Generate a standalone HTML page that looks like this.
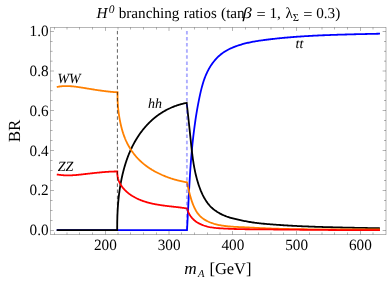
<!DOCTYPE html>
<html><head><meta charset="utf-8"><title>H0 branching ratios</title>
<style>
html,body{margin:0;padding:0;background:#fff;}
svg{will-change:transform;}
svg text{text-rendering:geometricPrecision;}
body{width:390px;height:281px;overflow:hidden;position:relative;font-family:"Liberation Serif",serif;}
</style></head><body>
<svg width="390" height="281" viewBox="0 0 390 281" style="position:absolute;left:0;top:0"><rect x="0" y="0" width="390" height="281" fill="#fff"/><path d="M56.70 230.20L187.00 230.20L187.06 229.18L187.11 228.16L187.17 227.15L187.23 226.13L187.28 225.11L187.34 224.09L187.39 223.07L187.45 222.06L187.50 221.04L187.55 220.02L187.61 219.00L187.66 217.98L187.71 216.97L187.76 215.95L187.81 214.93L187.87 213.92L187.92 212.90L187.97 211.88L188.02 210.86L188.07 209.85L188.12 208.83L188.17 207.81L188.22 206.80L188.28 205.78L188.33 204.76L188.38 203.75L188.43 202.73L188.48 201.71L188.53 200.70L188.58 199.68L188.64 198.67L188.69 197.65L188.74 196.63L188.79 195.62L188.85 194.60L188.90 193.59L188.95 192.57L189.01 191.56L189.06 190.54L189.12 189.53L189.17 188.51L189.23 187.50L189.29 186.48L189.34 185.47L189.40 184.45L189.46 183.44L189.52 182.42L189.58 181.41L189.64 180.39L189.70 179.38L189.76 178.37L189.82 177.35L189.89 176.34L189.95 175.32L190.01 174.31L190.08 173.30L190.15 172.28L190.21 171.27L190.28 170.26L190.35 169.24L190.42 168.23L190.49 167.22L190.57 166.20L190.64 165.19L190.71 164.18L190.79 163.17L190.87 162.15L190.95 161.14L191.02 160.13L191.11 159.12L191.19 158.10L191.27 157.09L191.35 156.08L191.44 155.07L191.53 154.06L191.62 153.05L191.71 152.04L191.80 151.02L191.89 150.01L191.98 149.00L192.08 147.99L192.18 146.98L192.28 145.97L192.38 144.96L192.48 143.95L192.58 142.94L192.69 141.93L192.80 140.92L192.91 139.91L193.02 138.90L193.13 137.89L193.24 136.88L193.36 135.87L193.48 134.86L193.60 133.85L193.72 132.84L193.85 131.84L193.97 130.83L194.10 129.82L194.23 128.81L194.36 127.80L194.50 126.79L194.63 125.78L194.77 124.78L194.91 123.77L195.05 122.76L195.20 121.75L195.35 120.75L195.50 119.74L195.65 118.73L195.80 117.73L195.96 116.72L196.12 115.71L196.28 114.71L196.44 113.70L196.61 112.69L196.78 111.69L196.95 110.68L197.12 109.68L197.30 108.67L197.48 107.66L197.66 106.66L197.84 105.65L198.03 104.65L198.22 103.64L198.41 102.64L198.61 101.63L198.80 100.63L199.00 99.63L199.21 98.62L199.41 97.62L199.62 96.61L199.84 95.61L200.05 94.61L200.27 93.61L200.50 92.61L200.73 91.61L200.97 90.61L201.21 89.62L201.46 88.62L201.72 87.63L201.98 86.65L202.25 85.66L202.53 84.68L202.82 83.70L203.12 82.73L203.42 81.76L203.74 80.80L204.07 79.83L204.41 78.88L204.76 77.93L205.12 76.98L205.49 76.04L205.88 75.11L206.28 74.18L206.69 73.26L207.12 72.34L207.56 71.44L208.02 70.54L208.49 69.64L208.97 68.76L209.48 67.88L210.00 67.01L210.53 66.15L211.08 65.29L211.65 64.45L212.24 63.62L212.84 62.80L213.45 61.99L214.09 61.20L214.73 60.42L215.40 59.65L216.08 58.89L216.77 58.15L217.48 57.43L218.21 56.72L218.95 56.03L219.70 55.36L220.47 54.71L221.26 54.07L222.06 53.46L222.87 52.86L223.70 52.29L224.55 51.73L225.40 51.20L226.27 50.68L227.15 50.18L228.04 49.70L228.95 49.24L229.86 48.79L230.78 48.36L231.71 47.95L232.64 47.55L233.59 47.16L234.53 46.79L235.49 46.43L236.45 46.08L237.41 45.75L238.37 45.43L239.34 45.11L240.31 44.81L241.28 44.52L242.26 44.24L243.24 43.97L244.22 43.70L245.21 43.45L246.19 43.21L247.18 42.97L248.18 42.75L249.17 42.53L250.16 42.32L251.16 42.11L252.16 41.91L253.16 41.72L254.16 41.54L255.17 41.36L256.17 41.19L257.18 41.03L258.19 40.87L259.19 40.71L260.20 40.56L261.21 40.41L262.23 40.27L263.24 40.13L264.25 40.00L265.26 39.87L266.27 39.74L267.29 39.61L268.30 39.49L269.31 39.37L270.33 39.25L271.34 39.13L272.35 39.01L273.37 38.90L274.38 38.79L275.39 38.68L276.41 38.57L277.42 38.46L278.43 38.36L279.45 38.26L280.46 38.16L281.47 38.06L282.49 37.96L283.50 37.87L284.51 37.77L285.53 37.68L286.54 37.59L287.55 37.50L288.57 37.41L289.58 37.33L290.59 37.24L291.61 37.16L292.62 37.08L293.64 37.00L294.65 36.92L295.66 36.85L296.68 36.77L297.69 36.70L298.70 36.63L299.72 36.55L300.73 36.49L301.75 36.42L302.76 36.35L303.77 36.29L304.79 36.22L305.80 36.16L306.81 36.10L307.83 36.04L308.84 35.98L309.86 35.92L310.87 35.87L311.89 35.81L312.90 35.76L313.91 35.70L314.93 35.65L315.94 35.60L316.96 35.55L317.97 35.50L318.99 35.45L320.00 35.41L321.02 35.36L322.03 35.32L323.05 35.27L324.06 35.23L325.08 35.19L326.09 35.15L327.11 35.11L328.12 35.07L329.14 35.03L330.15 34.99L331.17 34.95L332.18 34.92L333.20 34.88L334.21 34.85L335.23 34.81L336.24 34.78L337.26 34.75L338.28 34.71L339.29 34.68L340.31 34.65L341.32 34.62L342.34 34.59L343.36 34.56L344.37 34.53L345.39 34.51L346.40 34.48L347.42 34.45L348.44 34.42L349.45 34.40L350.47 34.37L351.49 34.35L352.51 34.32L353.52 34.30L354.54 34.27L355.56 34.25L356.57 34.22L357.59 34.20L358.61 34.18L359.63 34.15L360.64 34.13L361.66 34.11L362.68 34.08L363.70 34.06L364.72 34.04L365.73 34.02L366.75 33.99L367.77 33.97L368.79 33.95L369.81 33.93L370.83 33.90L371.85 33.88L372.86 33.86L373.88 33.84L374.90 33.81L375.92 33.79L376.94 33.77L377.96 33.75L378.98 33.72L380.00 33.70" fill="none" stroke="#0000ff" stroke-width="1.8" stroke-linejoin="miter" stroke-linecap="butt"/><path d="M56.70 230.20L117.20 230.20L117.20 229.61L117.20 229.02L117.20 228.43L117.20 227.84L117.20 227.26L117.20 226.67L117.20 226.08L117.21 225.49L117.21 224.90L117.22 224.31L117.22 223.72L117.23 223.13L117.24 222.54L117.25 221.96L117.26 221.37L117.27 220.78L117.28 220.19L117.30 219.60L117.31 219.01L117.33 218.42L117.34 217.84L117.36 217.25L117.38 216.66L117.40 216.07L117.42 215.48L117.44 214.89L117.47 214.31L117.49 213.72L117.52 213.13L117.54 212.54L117.57 211.95L117.60 211.37L117.63 210.78L117.66 210.19L117.70 209.60L117.73 209.02L117.77 208.43L117.80 207.84L117.84 207.26L117.88 206.67L117.92 206.08L117.96 205.50L118.01 204.91L118.05 204.32L118.10 203.74L118.15 203.15L118.20 202.57L118.25 201.98L118.30 201.40L118.35 200.81L118.41 200.23L118.46 199.64L118.52 199.06L118.58 198.47L118.64 197.89L118.70 197.30L118.77 196.72L118.83 196.14L118.90 195.55L118.97 194.97L119.04 194.39L119.11 193.80L119.19 193.22L119.26 192.64L119.34 192.06L119.42 191.48L119.50 190.89L119.58 190.31L119.66 189.73L119.75 189.15L119.84 188.57L119.92 187.99L120.01 187.41L120.11 186.83L120.20 186.25L120.30 185.67L120.39 185.09L120.49 184.51L120.60 183.94L120.70 183.36L120.80 182.78L120.91 182.20L121.02 181.63L121.13 181.05L121.24 180.47L121.36 179.90L121.47 179.32L121.59 178.75L121.71 178.17L121.84 177.60L121.96 177.02L122.09 176.45L122.21 175.87L122.35 175.30L122.48 174.73L122.61 174.16L122.75 173.58L122.89 173.01L123.03 172.44L123.17 171.87L123.32 171.30L123.46 170.73L123.61 170.16L123.76 169.59L123.92 169.02L124.07 168.45L124.23 167.88L124.39 167.32L124.56 166.75L124.72 166.18L124.89 165.62L125.06 165.05L125.23 164.49L125.40 163.93L125.58 163.36L125.76 162.80L125.94 162.24L126.13 161.68L126.31 161.12L126.50 160.56L126.69 160.00L126.89 159.45L127.08 158.89L127.28 158.34L127.48 157.78L127.69 157.23L127.90 156.68L128.11 156.13L128.32 155.58L128.53 155.03L128.75 154.48L128.97 153.93L129.19 153.39L129.42 152.85L129.65 152.30L129.88 151.76L130.12 151.22L130.35 150.68L130.59 150.14L130.84 149.61L131.08 149.07L131.33 148.54L131.58 148.01L131.84 147.48L132.09 146.95L132.36 146.42L132.62 145.89L132.89 145.37L133.16 144.84L133.43 144.32L133.70 143.80L133.98 143.28L134.27 142.77L134.55 142.25L134.84 141.74L135.13 141.23L135.42 140.72L135.72 140.21L136.02 139.70L136.33 139.20L136.63 138.70L136.94 138.20L137.26 137.70L137.57 137.20L137.89 136.71L138.22 136.21L138.54 135.72L138.87 135.24L139.20 134.75L139.54 134.27L139.88 133.79L140.22 133.31L140.56 132.83L140.91 132.36L141.26 131.88L141.61 131.42L141.97 130.95L142.33 130.48L142.69 130.02L143.06 129.56L143.42 129.11L143.80 128.65L144.17 128.20L144.55 127.75L144.93 127.31L145.31 126.86L145.70 126.42L146.09 125.99L146.48 125.55L146.88 125.12L147.28 124.69L147.68 124.27L148.09 123.84L148.49 123.42L148.91 123.01L149.32 122.59L149.74 122.18L150.16 121.78L150.58 121.37L151.01 120.97L151.44 120.58L151.87 120.18L152.30 119.79L152.74 119.40L153.18 119.02L153.63 118.64L154.08 118.26L154.53 117.89L154.98 117.52L155.44 117.15L155.90 116.79L156.36 116.43L156.82 116.08L157.29 115.73L157.76 115.38L158.24 115.04L158.71 114.70L159.19 114.36L159.68 114.03L160.16 113.70L160.65 113.38L161.15 113.06L161.64 112.74L162.14 112.43L162.64 112.12L163.14 111.82L163.65 111.52L164.16 111.22L164.67 110.93L165.18 110.64L165.70 110.36L166.21 110.08L166.74 109.80L167.26 109.53L167.78 109.27L168.31 109.01L168.84 108.75L169.37 108.49L169.91 108.25L170.44 108.00L170.98 107.76L171.52 107.52L172.07 107.29L172.61 107.07L173.16 106.84L173.70 106.63L174.25 106.41L174.80 106.20L175.36 106.00L175.91 105.80L176.47 105.60L177.03 105.41L177.59 105.23L178.15 105.05L178.71 104.87L179.27 104.70L179.84 104.53L180.40 104.37L180.97 104.21L181.54 104.06L182.11 103.91L182.68 103.77L183.25 103.63L183.82 103.49L184.40 103.37L184.97 103.24L185.55 103.12L186.12 103.01L186.70 102.90L186.82 103.98L186.94 105.06L187.06 106.13L187.18 107.21L187.30 108.29L187.42 109.37L187.54 110.45L187.66 111.53L187.78 112.61L187.90 113.69L188.01 114.77L188.13 115.85L188.25 116.93L188.37 118.01L188.48 119.09L188.60 120.17L188.72 121.25L188.83 122.33L188.95 123.41L189.06 124.49L189.18 125.57L189.29 126.65L189.41 127.73L189.52 128.81L189.63 129.89L189.75 130.97L189.86 132.06L189.97 133.14L190.09 134.22L190.20 135.30L190.31 136.38L190.42 137.46L190.54 138.54L190.65 139.62L190.76 140.70L190.87 141.79L190.98 142.87L191.09 143.95L191.21 145.03L191.32 146.11L191.44 147.19L191.56 148.27L191.68 149.35L191.80 150.42L191.93 151.50L192.05 152.58L192.18 153.66L192.32 154.73L192.46 155.81L192.60 156.88L192.74 157.96L192.89 159.03L193.05 160.10L193.21 161.17L193.37 162.24L193.55 163.31L193.72 164.38L193.90 165.45L194.09 166.51L194.29 167.58L194.49 168.64L194.70 169.70L194.91 170.76L195.14 171.82L195.37 172.88L195.61 173.94L195.86 174.99L196.12 176.04L196.38 177.09L196.66 178.14L196.94 179.19L197.24 180.24L197.54 181.28L197.85 182.32L198.18 183.36L198.51 184.40L198.86 185.44L199.22 186.47L199.59 187.50L199.97 188.53L200.37 189.55L200.77 190.57L201.20 191.59L201.63 192.59L202.08 193.59L202.55 194.59L203.04 195.57L203.54 196.54L204.05 197.50L204.59 198.45L205.15 199.39L205.72 200.32L206.31 201.23L206.93 202.12L207.57 203.00L208.22 203.85L208.90 204.69L209.61 205.50L210.34 206.29L211.09 207.05L211.86 207.79L212.66 208.50L213.48 209.19L214.32 209.85L215.17 210.49L216.05 211.11L216.94 211.71L217.85 212.28L218.78 212.83L219.71 213.36L220.67 213.87L221.64 214.36L222.61 214.82L223.60 215.27L224.60 215.69L225.61 216.10L226.63 216.49L227.66 216.85L228.69 217.20L229.73 217.53L230.77 217.85L231.82 218.15L232.87 218.44L233.93 218.71L234.99 218.98L236.05 219.23L237.12 219.47L238.19 219.71L239.26 219.94L240.33 220.16L241.40 220.38L242.47 220.60L243.53 220.81L244.60 221.02L245.67 221.23L246.74 221.43L247.80 221.62L248.87 221.81L249.94 221.99L251.01 222.17L252.08 222.33L253.15 222.49L254.23 222.64L255.30 222.79L256.38 222.92L257.45 223.06L258.53 223.18L259.60 223.30L260.68 223.42L261.76 223.53L262.84 223.64L263.92 223.74L265.00 223.84L266.08 223.93L267.16 224.03L268.24 224.12L269.32 224.21L270.40 224.30L271.49 224.38L272.57 224.47L273.65 224.55L274.73 224.63L275.81 224.71L276.90 224.79L277.98 224.87L279.06 224.95L280.14 225.02L281.23 225.09L282.31 225.16L283.39 225.23L284.47 225.30L285.56 225.37L286.64 225.44L287.73 225.50L288.81 225.56L289.89 225.63L290.98 225.69L292.06 225.75L293.15 225.81L294.23 225.86L295.31 225.92L296.40 225.97L297.48 226.03L298.57 226.08L299.65 226.13L300.74 226.18L301.82 226.23L302.91 226.28L303.99 226.33L305.08 226.37L306.16 226.42L307.25 226.46L308.33 226.51L309.42 226.55L310.51 226.59L311.59 226.63L312.68 226.67L313.76 226.71L314.85 226.75L315.93 226.79L317.02 226.83L318.11 226.86L319.19 226.90L320.28 226.93L321.37 226.97L322.45 227.00L323.54 227.03L324.62 227.06L325.71 227.10L326.80 227.13L327.88 227.16L328.97 227.19L330.06 227.21L331.14 227.24L332.23 227.27L333.31 227.30L334.40 227.33L335.49 227.35L336.57 227.38L337.66 227.40L338.75 227.43L339.83 227.45L340.92 227.48L342.01 227.50L343.09 227.53L344.18 227.55L345.26 227.57L346.35 227.60L347.44 227.62L348.52 227.64L349.61 227.67L350.70 227.69L351.78 227.71L352.87 227.73L353.95 227.75L355.04 227.78L356.13 227.80L357.21 227.82L358.30 227.84L359.38 227.86L360.47 227.89L361.56 227.91L362.64 227.93L363.73 227.95L364.81 227.97L365.90 228.00L366.98 228.02L368.07 228.04L369.15 228.06L370.24 228.08L371.32 228.11L372.41 228.13L373.49 228.15L374.58 228.18L375.66 228.20L376.75 228.23L377.83 228.25L378.92 228.27L380.00 228.30" fill="none" stroke="#000000" stroke-width="1.8" stroke-linejoin="miter" stroke-linecap="butt"/><path d="M56.80 87.00L57.36 86.89L57.92 86.78L58.48 86.68L59.04 86.60L59.59 86.51L60.15 86.44L60.71 86.37L61.27 86.31L61.83 86.26L62.39 86.22L62.95 86.18L63.50 86.14L64.06 86.12L64.62 86.10L65.18 86.08L65.74 86.07L66.29 86.07L66.85 86.07L67.41 86.08L67.97 86.10L68.52 86.11L69.08 86.14L69.64 86.16L70.20 86.20L70.75 86.23L71.31 86.27L71.87 86.32L72.42 86.37L72.98 86.42L73.54 86.47L74.10 86.53L74.65 86.60L75.21 86.66L75.77 86.73L76.32 86.80L76.88 86.87L77.44 86.95L77.99 87.03L78.55 87.11L79.11 87.19L79.66 87.27L80.22 87.35L80.78 87.44L81.33 87.53L81.89 87.62L82.45 87.71L83.00 87.79L83.56 87.89L84.12 87.98L84.67 88.07L85.23 88.16L85.79 88.25L86.34 88.34L86.90 88.43L87.46 88.52L88.01 88.61L88.57 88.70L89.13 88.79L89.68 88.88L90.24 88.97L90.80 89.06L91.35 89.15L91.91 89.24L92.47 89.33L93.02 89.42L93.58 89.51L94.14 89.59L94.69 89.68L95.25 89.77L95.81 89.85L96.37 89.94L96.92 90.02L97.48 90.11L98.04 90.19L98.59 90.27L99.15 90.35L99.71 90.43L100.27 90.51L100.82 90.59L101.38 90.67L101.94 90.74L102.50 90.82L103.06 90.89L103.61 90.96L104.17 91.04L104.73 91.11L105.29 91.18L105.85 91.24L106.41 91.31L106.96 91.38L107.52 91.44L108.08 91.50L108.64 91.56L109.20 91.62L109.76 91.68L110.32 91.73L110.88 91.79L111.44 91.84L112.00 91.89L112.56 91.94L113.12 91.99L113.68 92.04L114.24 92.08L114.80 92.12L115.36 92.16L115.92 92.20L116.48 92.23L117.04 92.27L117.60 92.30L117.58 92.88L117.57 93.46L117.56 94.04L117.56 94.61L117.55 95.19L117.55 95.77L117.55 96.35L117.55 96.92L117.56 97.50L117.57 98.08L117.58 98.66L117.59 99.23L117.61 99.81L117.63 100.39L117.65 100.96L117.67 101.54L117.70 102.12L117.73 102.69L117.76 103.27L117.80 103.85L117.83 104.42L117.87 105.00L117.91 105.57L117.96 106.15L118.01 106.72L118.06 107.30L118.11 107.87L118.16 108.45L118.22 109.02L118.28 109.59L118.34 110.17L118.41 110.74L118.48 111.31L118.55 111.89L118.62 112.46L118.70 113.03L118.77 113.60L118.85 114.17L118.94 114.75L119.02 115.32L119.11 115.89L119.20 116.46L119.29 117.03L119.39 117.60L119.49 118.17L119.59 118.74L119.69 119.31L119.80 119.88L119.91 120.45L120.02 121.01L120.13 121.58L120.24 122.15L120.36 122.72L120.48 123.28L120.61 123.85L120.73 124.42L120.86 124.98L120.99 125.55L121.13 126.11L121.27 126.67L121.41 127.23L121.55 127.80L121.70 128.36L121.85 128.92L122.00 129.48L122.16 130.03L122.32 130.59L122.48 131.15L122.65 131.70L122.82 132.25L123.00 132.80L123.17 133.35L123.36 133.90L123.54 134.45L123.73 135.00L123.92 135.54L124.12 136.09L124.32 136.63L124.53 137.17L124.74 137.70L124.95 138.24L125.17 138.77L125.39 139.31L125.62 139.84L125.85 140.37L126.09 140.89L126.33 141.42L126.58 141.94L126.83 142.46L127.08 142.98L127.34 143.49L127.60 144.01L127.87 144.52L128.14 145.03L128.42 145.53L128.70 146.04L128.99 146.54L129.28 147.04L129.57 147.53L129.87 148.03L130.17 148.52L130.48 149.00L130.79 149.49L131.11 149.97L131.43 150.45L131.75 150.93L132.08 151.40L132.41 151.87L132.75 152.34L133.09 152.81L133.44 153.27L133.79 153.73L134.14 154.18L134.50 154.63L134.86 155.08L135.23 155.53L135.60 155.97L135.97 156.41L136.35 156.84L136.73 157.28L137.11 157.70L137.50 158.13L137.90 158.55L138.29 158.97L138.70 159.38L139.10 159.79L139.51 160.20L139.92 160.60L140.34 161.00L140.76 161.39L141.18 161.78L141.61 162.17L142.04 162.55L142.47 162.93L142.91 163.30L143.35 163.68L143.80 164.04L144.25 164.41L144.70 164.76L145.16 165.12L145.61 165.47L146.08 165.82L146.54 166.16L147.01 166.50L147.48 166.84L147.95 167.17L148.43 167.50L148.91 167.82L149.39 168.14L149.87 168.46L150.36 168.78L150.85 169.09L151.34 169.39L151.83 169.70L152.33 169.99L152.83 170.29L153.33 170.58L153.83 170.87L154.34 171.16L154.85 171.44L155.36 171.71L155.87 171.99L156.38 172.26L156.90 172.53L157.41 172.79L157.93 173.05L158.45 173.31L158.97 173.56L159.50 173.81L160.02 174.06L160.55 174.31L161.08 174.55L161.60 174.78L162.13 175.02L162.67 175.25L163.20 175.48L163.73 175.70L164.26 175.92L164.80 176.14L165.34 176.35L165.87 176.56L166.41 176.77L166.95 176.98L167.49 177.18L168.03 177.38L168.58 177.57L169.12 177.77L169.66 177.96L170.21 178.14L170.76 178.33L171.30 178.50L171.85 178.68L172.40 178.86L172.95 179.03L173.50 179.19L174.05 179.36L174.61 179.52L175.16 179.68L175.72 179.83L176.27 179.98L176.83 180.13L177.39 180.28L177.95 180.42L178.50 180.56L179.07 180.70L179.63 180.83L180.19 180.96L180.75 181.09L181.32 181.22L181.88 181.34L182.45 181.46L183.01 181.57L183.58 181.68L184.15 181.79L184.72 181.90L185.29 182.01L185.86 182.11L186.43 182.20L187.00 182.30L187.19 183.28L187.39 184.25L187.60 185.22L187.81 186.19L188.02 187.15L188.24 188.12L188.47 189.09L188.70 190.05L188.94 191.02L189.18 191.99L189.43 192.96L189.68 193.93L189.94 194.90L190.21 195.87L190.48 196.85L190.77 197.83L191.06 198.80L191.36 199.77L191.68 200.74L192.00 201.71L192.34 202.67L192.69 203.63L193.06 204.58L193.44 205.52L193.84 206.45L194.26 207.37L194.69 208.28L195.15 209.18L195.62 210.07L196.12 210.94L196.64 211.79L197.19 212.62L197.76 213.42L198.36 214.20L198.99 214.95L199.65 215.67L200.34 216.36L201.06 217.02L201.80 217.65L202.57 218.25L203.36 218.82L204.18 219.37L205.01 219.89L205.87 220.38L206.74 220.85L207.63 221.30L208.54 221.72L209.46 222.12L210.39 222.50L211.33 222.85L212.28 223.19L213.24 223.50L214.20 223.80L215.18 224.08L216.15 224.34L217.13 224.58L218.11 224.80L219.09 225.02L220.07 225.21L221.06 225.39L222.05 225.56L223.04 225.72L224.03 225.86L225.02 225.99L226.01 226.11L227.01 226.22L228.01 226.32L229.00 226.42L230.00 226.50L231.00 226.58L232.00 226.65L233.00 226.72L234.01 226.78L235.01 226.83L236.01 226.88L237.01 226.93L238.02 226.98L239.02 227.03L240.02 227.07L241.02 227.11L242.02 227.16L243.02 227.20L244.03 227.25L245.03 227.30L246.03 227.35L247.03 227.40L248.02 227.44L249.02 227.50L250.02 227.55L251.02 227.60L252.02 227.65L253.02 227.70L254.01 227.75L255.01 227.80L256.01 227.85L257.01 227.90L258.00 227.95L259.00 228.00L260.00 228.05L261.00 228.09L261.99 228.14L262.99 228.18L263.99 228.23L264.99 228.27L265.98 228.31L266.98 228.35L267.98 228.39L268.98 228.43L269.98 228.47L270.98 228.51L271.97 228.54L272.97 228.58L273.97 228.61L274.97 228.64L275.97 228.67L276.97 228.71L277.97 228.74L278.97 228.76L279.97 228.79L280.96 228.82L281.96 228.85L282.96 228.87L283.96 228.90L284.96 228.92L285.96 228.94L286.96 228.97L287.96 228.99L288.96 229.01L289.96 229.03L290.96 229.05L291.96 229.07L292.96 229.09L293.96 229.10L294.96 229.12L295.96 229.14L296.96 229.15L297.96 229.17L298.96 229.18L299.96 229.19L300.96 229.21L301.96 229.22L302.96 229.23L303.96 229.24L304.97 229.25L305.97 229.26L306.97 229.27L307.97 229.28L308.97 229.29L309.97 229.30L310.97 229.30L311.97 229.31L312.97 229.32L313.97 229.32L314.97 229.33L315.97 229.34L316.98 229.34L317.98 229.35L318.98 229.35L319.98 229.35L320.98 229.36L321.98 229.36L322.98 229.36L323.98 229.37L324.98 229.37L325.98 229.37L326.99 229.37L327.99 229.38L328.99 229.38L329.99 229.38L330.99 229.38L331.99 229.38L332.99 229.38L333.99 229.38L334.99 229.38L335.99 229.39L337.00 229.39L338.00 229.39L339.00 229.39L340.00 229.39L341.00 229.39L342.00 229.39L343.00 229.39L344.00 229.39L345.00 229.39L346.00 229.39L347.00 229.39L348.00 229.39L349.01 229.39L350.01 229.39L351.01 229.39L352.01 229.39L353.01 229.39L354.01 229.39L355.01 229.39L356.01 229.39L357.01 229.39L358.01 229.40L359.01 229.40L360.01 229.40L361.01 229.40L362.01 229.40L363.01 229.41L364.01 229.41L365.01 229.41L366.01 229.42L367.01 229.42L368.01 229.42L369.01 229.43L370.01 229.43L371.01 229.44L372.01 229.44L373.01 229.45L374.01 229.45L375.01 229.46L376.00 229.47L377.00 229.47L378.00 229.48L379.00 229.49L380.00 229.50" fill="none" stroke="#ff8000" stroke-width="1.8" stroke-linejoin="miter" stroke-linecap="butt"/><path d="M56.80 174.40L57.41 174.52L58.02 174.62L58.63 174.73L59.23 174.82L59.84 174.90L60.45 174.98L61.06 175.05L61.67 175.11L62.28 175.17L62.89 175.22L63.50 175.26L64.11 175.30L64.72 175.33L65.33 175.35L65.94 175.37L66.55 175.39L67.16 175.39L67.77 175.40L68.38 175.40L68.99 175.39L69.60 175.38L70.21 175.36L70.82 175.34L71.43 175.31L72.04 175.28L72.65 175.25L73.26 175.22L73.87 175.18L74.48 175.13L75.09 175.09L75.70 175.04L76.31 174.99L76.92 174.93L77.53 174.88L78.14 174.82L78.76 174.76L79.37 174.69L79.98 174.63L80.59 174.57L81.20 174.50L81.81 174.43L82.42 174.36L83.03 174.29L83.64 174.22L84.25 174.15L84.87 174.08L85.48 174.01L86.09 173.94L86.70 173.87L87.31 173.80L87.92 173.73L88.53 173.66L89.14 173.59L89.75 173.52L90.36 173.45L90.98 173.38L91.59 173.32L92.20 173.25L92.81 173.18L93.42 173.11L94.03 173.05L94.64 172.98L95.26 172.92L95.87 172.85L96.48 172.79L97.09 172.72L97.70 172.66L98.31 172.60L98.92 172.54L99.54 172.48L100.15 172.43L100.76 172.37L101.37 172.31L101.98 172.26L102.59 172.21L103.21 172.15L103.82 172.10L104.43 172.06L105.04 172.01L105.66 171.96L106.27 171.92L106.88 171.88L107.49 171.83L108.10 171.80L108.72 171.76L109.33 171.72L109.94 171.69L110.56 171.66L111.17 171.63L111.78 171.60L112.39 171.57L113.01 171.55L113.62 171.53L114.23 171.51L114.85 171.49L115.46 171.48L116.07 171.47L116.69 171.46L117.30 171.45L117.28 172.00L117.27 172.55L117.28 173.10L117.29 173.64L117.32 174.18L117.36 174.71L117.42 175.24L117.48 175.76L117.56 176.28L117.65 176.79L117.75 177.30L117.86 177.80L117.98 178.30L118.12 178.79L118.26 179.28L118.42 179.76L118.58 180.24L118.76 180.72L118.94 181.19L119.13 181.65L119.34 182.11L119.55 182.57L119.77 183.02L120.01 183.47L120.25 183.91L120.50 184.34L120.75 184.78L121.02 185.20L121.29 185.63L121.57 186.04L121.86 186.45L122.16 186.86L122.47 187.26L122.78 187.66L123.10 188.06L123.42 188.44L123.76 188.83L124.10 189.21L124.44 189.58L124.79 189.95L125.15 190.31L125.52 190.67L125.89 191.02L126.26 191.37L126.64 191.72L127.03 192.05L127.42 192.39L127.81 192.72L128.21 193.04L128.62 193.36L129.02 193.68L129.44 193.98L129.85 194.29L130.27 194.59L130.70 194.88L131.13 195.17L131.56 195.46L131.99 195.74L132.43 196.01L132.86 196.28L133.31 196.54L133.75 196.80L134.20 197.06L134.64 197.31L135.09 197.55L135.55 197.79L136.00 198.02L136.46 198.26L136.92 198.48L137.38 198.70L137.84 198.92L138.31 199.13L138.77 199.34L139.24 199.54L139.71 199.74L140.19 199.94L140.66 200.13L141.14 200.32L141.61 200.50L142.09 200.68L142.57 200.85L143.06 201.03L143.54 201.19L144.03 201.36L144.51 201.52L145.00 201.68L145.49 201.83L145.98 201.98L146.48 202.13L146.97 202.27L147.47 202.41L147.96 202.55L148.46 202.68L148.96 202.81L149.46 202.94L149.96 203.07L150.47 203.19L150.97 203.31L151.47 203.42L151.98 203.54L152.49 203.65L152.99 203.76L153.50 203.86L154.01 203.97L154.52 204.07L155.03 204.17L155.54 204.27L156.06 204.36L156.57 204.45L157.08 204.54L157.60 204.63L158.11 204.72L158.63 204.81L159.14 204.89L159.66 204.97L160.17 205.05L160.69 205.13L161.21 205.20L161.73 205.28L162.24 205.35L162.76 205.43L163.28 205.50L163.80 205.57L164.32 205.63L164.83 205.70L165.35 205.77L165.87 205.83L166.39 205.90L166.91 205.96L167.43 206.02L167.95 206.09L168.46 206.15L168.98 206.21L169.50 206.27L170.02 206.33L170.53 206.39L171.05 206.45L171.57 206.50L172.08 206.56L172.60 206.62L173.11 206.68L173.63 206.74L174.14 206.79L174.66 206.85L175.17 206.91L175.68 206.97L176.19 207.03L176.70 207.09L177.21 207.14L177.72 207.20L178.23 207.26L178.74 207.32L179.25 207.39L179.75 207.45L180.26 207.51L180.76 207.57L181.26 207.64L181.76 207.70L182.26 207.77L182.76 207.84L183.26 207.91L183.76 207.98L184.25 208.05L184.75 208.12L185.24 208.19L185.73 208.27L186.22 208.34L186.71 208.42L187.20 208.50L187.52 209.73L187.90 210.92L188.34 212.07L188.84 213.18L189.40 214.24L190.01 215.26L190.67 216.24L191.37 217.18L192.12 218.07L192.92 218.92L193.75 219.73L194.63 220.49L195.54 221.21L196.48 221.89L197.46 222.52L198.46 223.11L199.50 223.66L200.55 224.18L201.63 224.66L202.74 225.10L203.86 225.51L204.99 225.88L206.14 226.22L207.30 226.53L208.47 226.81L209.65 227.06L210.84 227.28L212.02 227.48L213.21 227.65L214.40 227.80L215.60 227.94L216.79 228.05L217.99 228.15L219.19 228.24L220.38 228.32L221.58 228.40L222.78 228.47L223.97 228.54L225.17 228.60L226.36 228.66L227.56 228.72L228.75 228.77L229.94 228.82L231.13 228.87L232.33 228.91L233.52 228.95L234.71 228.99L235.90 229.02L237.09 229.06L238.28 229.09L239.47 229.11L240.66 229.14L241.85 229.16L243.04 229.19L244.22 229.21L245.41 229.23L246.60 229.24L247.79 229.26L248.98 229.27L250.17 229.29L251.35 229.30L252.54 229.31L253.73 229.32L254.92 229.33L256.10 229.34L257.29 229.35L258.48 229.36L259.67 229.37L260.86 229.38L262.04 229.39L263.23 229.40L264.42 229.41L265.61 229.41L266.80 229.42L267.99 229.43L269.18 229.44L270.37 229.45L271.56 229.46L272.75 229.47L273.94 229.48L275.13 229.50L276.32 229.51L277.51 229.52L278.70 229.53L279.89 229.54L281.08 229.55L282.27 229.56L283.46 229.57L284.65 229.58L285.84 229.59L287.03 229.61L288.23 229.62L289.42 229.63L290.61 229.64L291.80 229.65L292.99 229.66L294.18 229.67L295.38 229.68L296.57 229.70L297.76 229.71L298.95 229.72L300.14 229.73L301.34 229.74L302.53 229.75L303.72 229.76L304.91 229.78L306.11 229.79L307.30 229.80L308.49 229.81L309.68 229.82L310.88 229.83L312.07 229.84L313.26 229.85L314.45 229.86L315.65 229.87L316.84 229.88L318.03 229.89L319.23 229.90L320.42 229.91L321.61 229.92L322.80 229.93L324.00 229.94L325.19 229.95L326.38 229.96L327.58 229.97L328.77 229.98L329.96 229.98L331.15 229.99L332.35 230.00L333.54 230.01L334.73 230.01L335.93 230.02L337.12 230.03L338.31 230.04L339.50 230.04L340.70 230.05L341.89 230.05L343.08 230.06L344.27 230.06L345.47 230.07L346.66 230.07L347.85 230.08L349.04 230.08L350.23 230.09L351.43 230.09L352.62 230.09L353.81 230.10L355.00 230.10L356.19 230.10L357.38 230.10L358.58 230.10L359.77 230.10L360.96 230.10L362.15 230.10L363.34 230.10L364.53 230.10L365.72 230.10L366.91 230.10L368.10 230.10L369.29 230.09L370.48 230.09L371.67 230.09L372.86 230.08L374.05 230.08L375.24 230.07L376.43 230.07L377.62 230.06L378.81 230.06L380.00 230.05" fill="none" stroke="#ff0000" stroke-width="1.8" stroke-linejoin="miter" stroke-linecap="butt"/><line x1="117.4" y1="30.9" x2="117.4" y2="230.1" stroke="#000" stroke-opacity="0.7" stroke-width="0.9" stroke-dasharray="3.5 2.6"/><line x1="186.9" y1="30.9" x2="186.9" y2="230.1" stroke="#0000ff" stroke-opacity="0.32" stroke-width="1.9" stroke-dasharray="3.5 2.6"/><g fill="#000" stroke="none"><rect x="50.405" y="27.355" width="0.29" height="207.240"/><rect x="385.855" y="27.355" width="0.29" height="207.240"/><rect x="50.405" y="27.355" width="335.740" height="0.29"/><rect x="50.405" y="234.305" width="335.740" height="0.29"/><rect x="54.100" y="232.450" width="0.3" height="2.000"/><rect x="54.100" y="27.500" width="0.3" height="2.000"/><rect x="66.850" y="232.450" width="0.3" height="2.000"/><rect x="66.850" y="27.500" width="0.3" height="2.000"/><rect x="79.600" y="232.450" width="0.3" height="2.000"/><rect x="79.600" y="27.500" width="0.3" height="2.000"/><rect x="92.350" y="232.450" width="0.3" height="2.000"/><rect x="92.350" y="27.500" width="0.3" height="2.000"/><rect x="105.100" y="231.050" width="0.3" height="3.400"/><rect x="105.100" y="27.500" width="0.3" height="3.400"/><rect x="117.850" y="232.450" width="0.3" height="2.000"/><rect x="117.850" y="27.500" width="0.3" height="2.000"/><rect x="130.600" y="232.450" width="0.3" height="2.000"/><rect x="130.600" y="27.500" width="0.3" height="2.000"/><rect x="143.350" y="232.450" width="0.3" height="2.000"/><rect x="143.350" y="27.500" width="0.3" height="2.000"/><rect x="156.100" y="232.450" width="0.3" height="2.000"/><rect x="156.100" y="27.500" width="0.3" height="2.000"/><rect x="168.850" y="231.050" width="0.3" height="3.400"/><rect x="168.850" y="27.500" width="0.3" height="3.400"/><rect x="181.600" y="232.450" width="0.3" height="2.000"/><rect x="181.600" y="27.500" width="0.3" height="2.000"/><rect x="194.350" y="232.450" width="0.3" height="2.000"/><rect x="194.350" y="27.500" width="0.3" height="2.000"/><rect x="207.100" y="232.450" width="0.3" height="2.000"/><rect x="207.100" y="27.500" width="0.3" height="2.000"/><rect x="219.850" y="232.450" width="0.3" height="2.000"/><rect x="219.850" y="27.500" width="0.3" height="2.000"/><rect x="232.600" y="231.050" width="0.3" height="3.400"/><rect x="232.600" y="27.500" width="0.3" height="3.400"/><rect x="245.350" y="232.450" width="0.3" height="2.000"/><rect x="245.350" y="27.500" width="0.3" height="2.000"/><rect x="258.100" y="232.450" width="0.3" height="2.000"/><rect x="258.100" y="27.500" width="0.3" height="2.000"/><rect x="270.850" y="232.450" width="0.3" height="2.000"/><rect x="270.850" y="27.500" width="0.3" height="2.000"/><rect x="283.600" y="232.450" width="0.3" height="2.000"/><rect x="283.600" y="27.500" width="0.3" height="2.000"/><rect x="296.350" y="231.050" width="0.3" height="3.400"/><rect x="296.350" y="27.500" width="0.3" height="3.400"/><rect x="309.100" y="232.450" width="0.3" height="2.000"/><rect x="309.100" y="27.500" width="0.3" height="2.000"/><rect x="321.850" y="232.450" width="0.3" height="2.000"/><rect x="321.850" y="27.500" width="0.3" height="2.000"/><rect x="334.600" y="232.450" width="0.3" height="2.000"/><rect x="334.600" y="27.500" width="0.3" height="2.000"/><rect x="347.350" y="232.450" width="0.3" height="2.000"/><rect x="347.350" y="27.500" width="0.3" height="2.000"/><rect x="360.100" y="231.050" width="0.3" height="3.400"/><rect x="360.100" y="27.500" width="0.3" height="3.400"/><rect x="372.850" y="232.450" width="0.3" height="2.000"/><rect x="372.850" y="27.500" width="0.3" height="2.000"/><rect x="50.550" y="230.050" width="3.400" height="0.3"/><rect x="382.600" y="230.050" width="3.400" height="0.3"/><rect x="50.550" y="220.100" width="2.000" height="0.3"/><rect x="384.000" y="220.100" width="2.000" height="0.3"/><rect x="50.550" y="210.150" width="2.000" height="0.3"/><rect x="384.000" y="210.150" width="2.000" height="0.3"/><rect x="50.550" y="200.200" width="2.000" height="0.3"/><rect x="384.000" y="200.200" width="2.000" height="0.3"/><rect x="50.550" y="190.250" width="3.400" height="0.3"/><rect x="382.600" y="190.250" width="3.400" height="0.3"/><rect x="50.550" y="180.300" width="2.000" height="0.3"/><rect x="384.000" y="180.300" width="2.000" height="0.3"/><rect x="50.550" y="170.350" width="2.000" height="0.3"/><rect x="384.000" y="170.350" width="2.000" height="0.3"/><rect x="50.550" y="160.400" width="2.000" height="0.3"/><rect x="384.000" y="160.400" width="2.000" height="0.3"/><rect x="50.550" y="150.450" width="3.400" height="0.3"/><rect x="382.600" y="150.450" width="3.400" height="0.3"/><rect x="50.550" y="140.500" width="2.000" height="0.3"/><rect x="384.000" y="140.500" width="2.000" height="0.3"/><rect x="50.550" y="130.550" width="2.000" height="0.3"/><rect x="384.000" y="130.550" width="2.000" height="0.3"/><rect x="50.550" y="120.600" width="2.000" height="0.3"/><rect x="384.000" y="120.600" width="2.000" height="0.3"/><rect x="50.550" y="110.650" width="3.400" height="0.3"/><rect x="382.600" y="110.650" width="3.400" height="0.3"/><rect x="50.550" y="100.700" width="2.000" height="0.3"/><rect x="384.000" y="100.700" width="2.000" height="0.3"/><rect x="50.550" y="90.750" width="2.000" height="0.3"/><rect x="384.000" y="90.750" width="2.000" height="0.3"/><rect x="50.550" y="80.800" width="2.000" height="0.3"/><rect x="384.000" y="80.800" width="2.000" height="0.3"/><rect x="50.550" y="70.850" width="3.400" height="0.3"/><rect x="382.600" y="70.850" width="3.400" height="0.3"/><rect x="50.550" y="60.900" width="2.000" height="0.3"/><rect x="384.000" y="60.900" width="2.000" height="0.3"/><rect x="50.550" y="50.950" width="2.000" height="0.3"/><rect x="384.000" y="50.950" width="2.000" height="0.3"/><rect x="50.550" y="41.000" width="2.000" height="0.3"/><rect x="384.000" y="41.000" width="2.000" height="0.3"/><rect x="50.550" y="31.050" width="3.400" height="0.3"/><rect x="382.600" y="31.050" width="3.400" height="0.3"/></g><g font-family="Liberation Serif, serif" font-size="15.7" fill="#000"><text x="94.00" y="249.9" textLength="22.8" lengthAdjust="spacingAndGlyphs">200</text><text x="157.75" y="249.9" textLength="22.8" lengthAdjust="spacingAndGlyphs">300</text><text x="221.50" y="249.9" textLength="22.8" lengthAdjust="spacingAndGlyphs">400</text><text x="285.25" y="249.9" textLength="22.8" lengthAdjust="spacingAndGlyphs">500</text><text x="349.00" y="249.9" textLength="22.8" lengthAdjust="spacingAndGlyphs">600</text><text x="29.60" y="235.15" textLength="19.0" lengthAdjust="spacingAndGlyphs">0.0</text><text x="29.60" y="195.35" textLength="19.0" lengthAdjust="spacingAndGlyphs">0.2</text><text x="29.60" y="155.55" textLength="19.0" lengthAdjust="spacingAndGlyphs">0.4</text><text x="29.60" y="115.75" textLength="19.0" lengthAdjust="spacingAndGlyphs">0.6</text><text x="29.60" y="75.95" textLength="19.0" lengthAdjust="spacingAndGlyphs">0.8</text><text x="29.60" y="36.15" textLength="19.0" lengthAdjust="spacingAndGlyphs">1.0</text></g><g font-family="Liberation Serif, serif" font-style="italic" font-size="14" fill="#000"><text x="57.6" y="82.5" textLength="23.0" lengthAdjust="spacingAndGlyphs">WW</text><text x="57.8" y="170.8">ZZ</text><text x="147.9" y="108.3">hh</text><text x="295.6" y="47.8">tt</text></g><g font-family="Liberation Serif, serif" font-size="16" fill="#000"><text transform="translate(20.4,131.0) rotate(-90)" text-anchor="middle" font-size="17">BR</text><text x="184.3" y="273.6" font-style="italic" font-size="17.2">m</text><text x="197.9" y="276.5" font-style="italic" font-size="10.6">A</text><text x="209.4" y="273.6" font-size="16.5">[GeV]</text><g font-size="15.2"><text x="96.6" y="18.30" font-style="italic">H</text><text x="108.7" y="13.00" font-style="italic" font-size="11.5">0</text><text x="118.7" y="18.30">branching</text><text x="183.7" y="18.30" textLength="33.0" lengthAdjust="spacingAndGlyphs">ratios</text><text x="221.1" y="18.30">(tan</text><text x="242.8" y="18.30" font-style="italic" textLength="9.0" lengthAdjust="spacingAndGlyphs">β</text><text x="256.4" y="18.90" textLength="9.2" lengthAdjust="spacingAndGlyphs">=</text><text x="269.5" y="18.30">1,</text><text x="285.4" y="18.30">λ</text><text x="292.8" y="20.50" font-size="10.6">Σ</text><text x="303.2" y="18.90" textLength="9.2" lengthAdjust="spacingAndGlyphs">=</text><text x="316.2" y="18.30">0.3)</text></g></g></svg>
</body></html>
